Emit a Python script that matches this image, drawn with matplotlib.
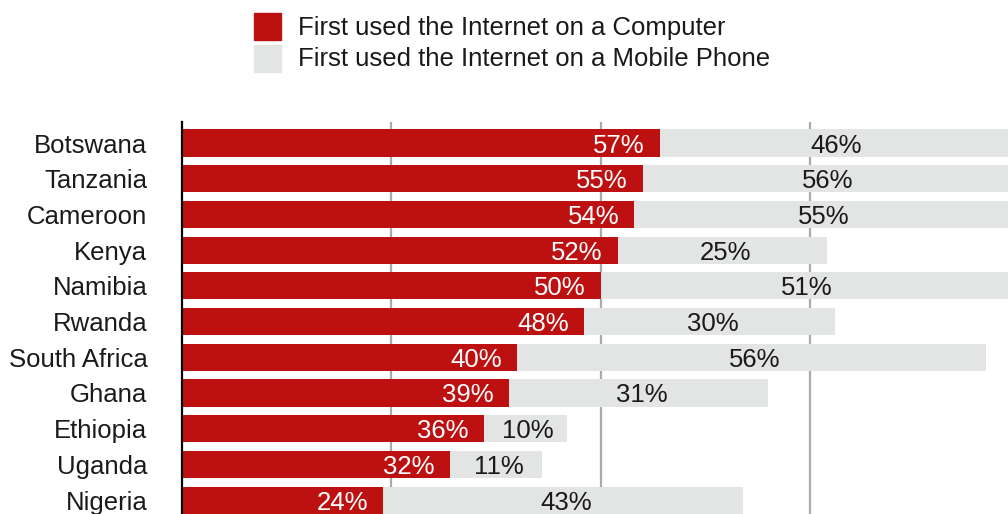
import matplotlib
matplotlib.use("Agg")
import matplotlib.pyplot as plt
from matplotlib.patches import Rectangle

plt.rcParams['font.family'] = ['Liberation Sans', 'DejaVu Sans']

countries = ['Botswana', 'Tanzania', 'Cameroon', 'Kenya', 'Namibia', 'Rwanda',
             'South Africa', 'Ghana', 'Ethiopia', 'Uganda', 'Nigeria']
computer = [57, 55, 54, 52, 50, 48, 40, 39, 36, 32, 24]
mobile = [46, 56, 55, 25, 51, 30, 56, 31, 10, 11, 43]
series_names = ['First used the Internet on a Computer',
                'First used the Internet on a Mobile Phone']

RED = '#BD1111'
GREY = '#E3E4E4'
XMAX = 98.6

fig = plt.figure(figsize=(10.08, 5.14), dpi=100)
ax = fig.add_axes([182 / 1008, 0, 826 / 1008, 392 / 514])

y = list(range(len(countries)))
ax.barh(y, computer, height=0.76, color=RED, zorder=2)
ax.barh(y, mobile, left=computer, height=0.76, color=GREY, zorder=2)

fs = 18.5
for i in y:
    ax.annotate(f'{computer[i]}%', (computer[i], i), xytext=(-11, -1.8),
                textcoords='offset points', ha='right', va='center',
                color='white', fontsize=fs, zorder=3)
    end = min(computer[i] + mobile[i], XMAX)
    ax.annotate(f'{mobile[i]}%', ((computer[i] + end) / 2, i), xytext=(2, -1.8),
                textcoords='offset points', ha='center', va='center',
                color='#1a1a1a', fontsize=fs, zorder=3)

ax.set_xlim(0, XMAX)
ax.set_ylim(10.39, -0.59)
ax.set_yticks(y)
ax.set_yticklabels(countries, fontsize=fs, color='#1a1a1a')
ax.tick_params(axis='y', length=0, pad=25)
ax.set_xticks([25, 50, 75])
ax.tick_params(axis='x', length=0, labelbottom=False)
ax.grid(axis='x', color='#ababab', linewidth=1.6, zorder=0)
ax.set_axisbelow(True)
for s in ['top', 'right', 'bottom']:
    ax.spines[s].set_visible(False)
ax.spines['left'].set_color('black')
ax.spines['left'].set_linewidth(1.6)
ax.spines['left'].set_zorder(4)

# legend
W, H = 1008, 514
for k, (c, name) in enumerate(zip([RED, GREY], series_names)):
    top = 13 + k * 32
    fig.add_artist(Rectangle((254 / W, 1 - (top + 27) / H), 27 / W, 27 / H,
                             transform=fig.transFigure, color=c))
    fig.text(298 / W, 1 - (top + 14.5) / H, name, ha='left', va='center',
             fontsize=fs, color='#1a1a1a')

fig.savefig('out.png', dpi=100)
